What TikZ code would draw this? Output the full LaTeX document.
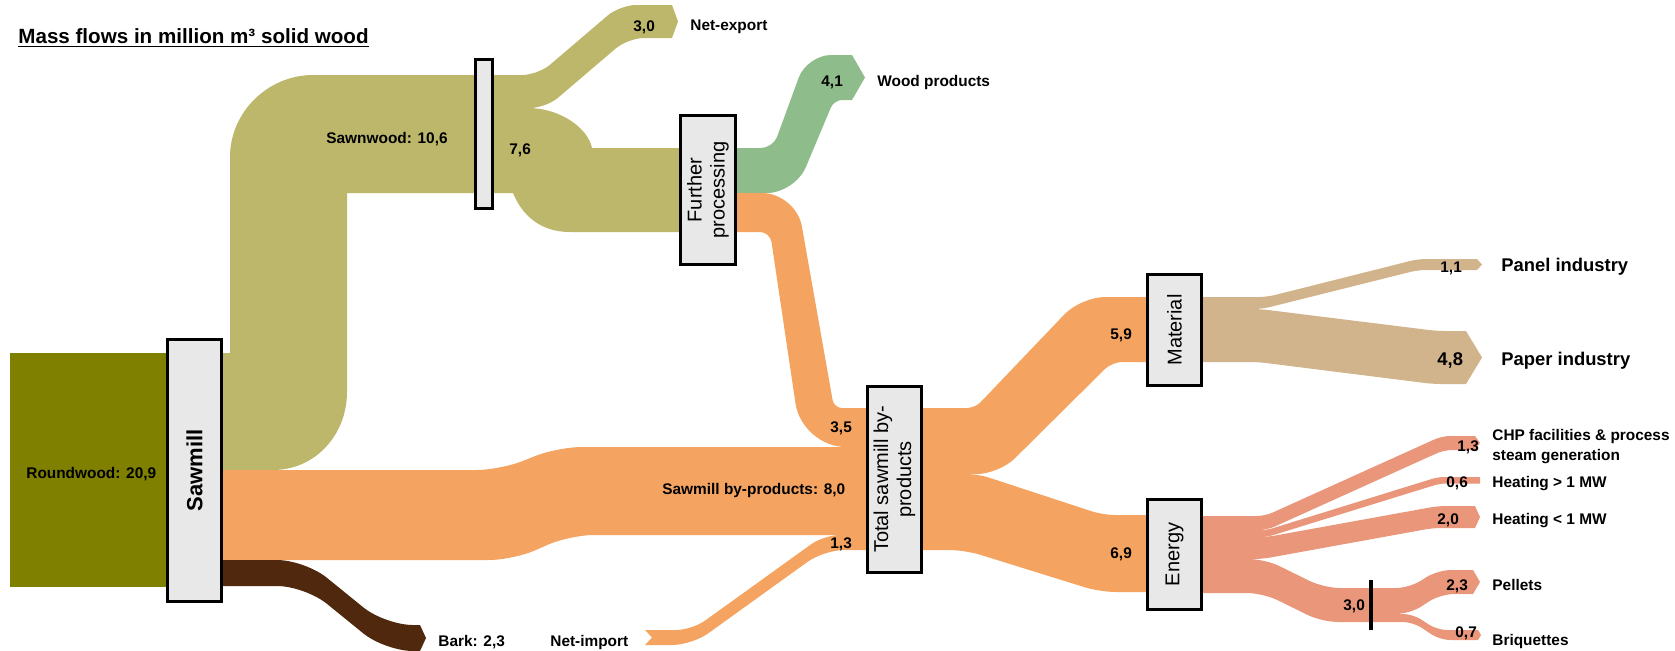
\documentclass[tikz,border=0pt]{standalone}
\usepackage{fontspec}
\setmainfont{Liberation Sans}
\definecolor{rwood}{HTML}{808000}
\definecolor{sawn}{HTML}{BDB76B}
\definecolor{byp}{HTML}{F4A460}
\definecolor{woodp}{HTML}{8FBC8B}
\definecolor{tanc}{HTML}{D2B48C}
\definecolor{sal}{HTML}{E9967A}
\definecolor{barkc}{HTML}{4F280D}
\definecolor{boxfill}{HTML}{E8E8E8}
\begin{document}
\begin{tikzpicture}[x=0.5pt,y=-0.5pt,
  procbox/.style={draw=black, line width=1.3pt, fill=boxfill, inner sep=0pt, align=center},
  lbl/.style={font=\bfseries\fontsize{7.7}{10}\selectfont, inner sep=0pt, anchor=base west},
  biglbl/.style={font=\bfseries\fontsize{9.2}{11}\selectfont, inner sep=0pt, anchor=base west},
  boxlbl/.style={font=\fontsize{10}{11.5}\selectfont},
]
\clip (0,0) rectangle (1675,650);

% roundwood input
\fill[rwood] (10,353) rectangle (190,587);

% sawnwood and its split
\fill[sawn] (200,353) -- (230,353) -- (230,157) .. controls (230,112) and (268,75) .. (313,75)
  -- (484,75) -- (484,193) -- (347,193) -- (347,392) .. controls (347,435) and (315,470) .. (273,470)
  -- (200,470) -- cycle;
\fill[sawn] (484,108) -- (484,75) [rounded corners=8pt] -- (538,75) -- (620,5) [sharp corners] -- (672,5)
  -- (678,21.5) -- (672,38) [rounded corners=8pt] -- (628,38) -- (546,108) [sharp corners] -- (500,108) -- cycle;
\fill[sawn] (484,108) -- (528,108) .. controls (560,108) and (588,128) .. (592,148) -- (690,148)
  -- (690,232) -- (570,232) .. controls (540,232) and (522,215) .. (513,193) -- (484,193) -- cycle;

% wood products
\fill[woodp] (725,193) -- (725,148) [rounded corners=6pt] -- (773,148) [rounded corners=12pt] -- (807,55)
  [sharp corners] -- (852,55) -- (865,77.5) -- (852,100) [rounded corners=4pt] -- (834,100)
  [rounded corners=14pt] -- (795,193) [sharp corners] -- (760,193) -- cycle;

% by-products from further processing
\fill[byp] (725,232) -- (725,193) [rounded corners=17pt] -- (796,193) [rounded corners=4pt] -- (834,408)
  [sharp corners] -- (880,408) -- (880,447) [rounded corners=22pt] -- (802,447) [rounded corners=5pt]
  -- (770,232) [sharp corners] -- (740,232) -- cycle;

% sawmill by-products
\fill[byp] (200,470) [rounded corners=12pt] -- (500,470) -- (558,447) [sharp corners] -- (880,447)
  -- (880,535) [rounded corners=12pt] -- (570,535) -- (513,560) [sharp corners] -- (200,560) -- cycle;

% net import
\fill[byp] (880,550) -- (880,535) [rounded corners=8pt] -- (824,535) -- (692,630) [sharp corners] -- (645,630)
  -- (652,637.5) -- (645,645) [rounded corners=10pt] -- (692,645) -- (824,550) [sharp corners] -- (850,550) -- cycle;

% bark
\fill[barkc] (200,586) -- (200,560) [rounded corners=14pt] -- (305,560) -- (385,625) [sharp corners] -- (420,625)
  -- (426,638) -- (420,651) [rounded corners=14pt] -- (385,651) -- (305,586) [sharp corners] -- (260,586) -- cycle;

% material and energy
\fill[byp] (910,474) -- (910,408) [rounded corners=4pt] -- (975,408) [rounded corners=12pt] -- (1081,297)
  [sharp corners] -- (1160,297) -- (1160,362) [rounded corners=5pt] -- (1112,362) [rounded corners=11pt]
  -- (999,474) [sharp corners] -- (960,474) -- cycle;
\fill[byp] (910,550) -- (910,474) [rounded corners=6pt] -- (978,474) -- (1103,515) [sharp corners] -- (1160,515)
  -- (1160,592) [rounded corners=8pt] -- (1100,592) -- (965,550) [sharp corners] -- (940,550) -- cycle;

% material uses
\fill[tanc] (1190,309) -- (1190,297) [rounded corners=4pt] -- (1267,297) -- (1418,259) [sharp corners] -- (1477,259)
  -- (1482,264.5) -- (1477,270) [rounded corners=4pt] -- (1418,270) -- (1262,309) [sharp corners] -- (1240,309) -- cycle;
\fill[tanc] (1190,362) -- (1190,309) [rounded corners=4pt] -- (1260,309) -- (1437,331) [sharp corners] -- (1466,331)
  -- (1482,357.5) -- (1466,384) [rounded corners=4pt] -- (1433,384) -- (1258,362) [sharp corners] -- (1230,362) -- cycle;

% energy uses
\fill[sal] (1190,530) -- (1190,516) [rounded corners=4pt] -- (1265,516) -- (1442,436) [sharp corners] -- (1475,436)
  -- (1480,443) -- (1475,450) [rounded corners=4pt] -- (1444,450) -- (1267,530) [sharp corners] -- (1240,530) -- cycle;
\fill[sal] (1190,537) -- (1190,530) [rounded corners=3pt] -- (1267,530) -- (1438,477) [sharp corners] -- (1480,477)
  -- (1480,483.5) [rounded corners=3pt] -- (1440,483.5) -- (1267,537) [sharp corners] -- (1240,537) -- cycle;
\fill[sal] (1190,559) -- (1190,537) [rounded corners=4pt] -- (1267,537) -- (1438,506) [sharp corners] -- (1475,506)
  -- (1480,517) -- (1475,528) [rounded corners=4pt] -- (1433,528) -- (1262,559) [sharp corners] -- (1240,559) -- cycle;
\fill[sal] (1190,593) -- (1190,559) [rounded corners=8pt] -- (1265,559) -- (1324,588) [sharp corners] -- (1371,588)
  -- (1371,622) [rounded corners=8pt] -- (1322,622) -- (1263,593) [sharp corners] -- (1240,593) -- cycle;
\fill[sal] (1371,614) -- (1371,588) [rounded corners=7pt] -- (1410,588) -- (1437,570) [sharp corners] -- (1473,570)
  -- (1480,582) -- (1473,594) [rounded corners=7pt] -- (1440,594) -- (1410,614) [sharp corners] -- (1390,614) -- cycle;
\fill[sal] (1371,622) -- (1371,614) [rounded corners=5pt] -- (1413,614) -- (1437,630) [sharp corners] -- (1478,630)
  -- (1481,635) -- (1478,640) [rounded corners=5pt] -- (1440,640) -- (1413,622) [sharp corners] -- (1390,622) -- cycle;

% process boxes
\node[procbox, rotate=90, minimum width=131.2pt, minimum height=27.2pt, font=\bfseries\fontsize{11}{13}\selectfont]
  (sawmill) at (194.5,470.5) {Sawmill};
\node[procbox, minimum width=8.7pt, minimum height=74.7pt] (sawnsplit) at (484,134) {};
\node[procbox, boxlbl, rotate=90, minimum width=74.7pt, minimum height=27.7pt] (further) at (708,190) {Further\\processing};
\node[procbox, boxlbl, rotate=90, minimum width=93.2pt, minimum height=27.2pt] (total) at (894.5,479.5) {Total sawmill by-\\products};
\node[procbox, boxlbl, rotate=90, minimum width=55.7pt, minimum height=27.2pt] (material) at (1174.5,330) {Material};
\node[procbox, boxlbl, rotate=90, minimum width=55.2pt, minimum height=27.2pt] (energy) at (1174.5,554.5) {Energy};
\node[fill=black, inner sep=0pt, minimum width=2pt, minimum height=25pt] (pelletsplit) at (1371,605) {};

% title
\node[inner sep=0pt, anchor=base west, font=\bfseries\fontsize{10.3}{12}\selectfont] (title) at (18,43)
  {\underline{Mass flows in million m³ solid wood}};

% flow labels
\node[lbl] (lround) at (26,478) {Roundwood: 20,9};
\node[lbl] (lsawn) at (326,143) {Sawnwood: 10,6};
\node[lbl] (lsplit) at (509,154) {7,6};
\node[lbl] (lexpv) at (633,31) {3,0};
\node[lbl] (lexp) at (690,30) {Net-export};
\node[lbl] (lwoodv) at (821,86) {4,1};
\node[lbl] (lwood) at (877,86) {Wood products};
\node[lbl] (lfurther) at (830,432) {3,5};
\node[lbl] (lbyp) at (662,494) {Sawmill by-products: 8,0};
\node[lbl] (limpv) at (830,548) {1,3};
\node[lbl] (lmatv) at (1110,339) {5,9};
\node[lbl] (lenv) at (1110,558) {6,9};
\node[lbl] (lpanelv) at (1440,272) {1,1};
\node[biglbl] (lpanel) at (1501,271.6) {Panel industry};
\node[biglbl] (lpaperv) at (1437,365.6) {4,8};
\node[biglbl] (lpaper) at (1501,365.6) {Paper industry};
\node[lbl] (lchpv) at (1457,451) {1,3};
\node[lbl, anchor=north west, align=left] (lchp) at (1492,428.8) {CHP facilities \& process\\steam generation};
\node[lbl] (lhbigv) at (1446,487) {0,6};
\node[lbl] (lhbig) at (1492,487) {Heating > 1 MW};
\node[lbl] (lhsmallv) at (1437,524) {2,0};
\node[lbl] (lhsmall) at (1492,524) {Heating < 1 MW};
\node[lbl] (lsplit2) at (1343,610) {3,0};
\node[lbl] (lpelletv) at (1446,590) {2,3};
\node[lbl] (lpellet) at (1492,590) {Pellets};
\node[lbl] (lbriqv) at (1455,637) {0,7};
\node[lbl] (lbriq) at (1492,645) {Briquettes};
\node[lbl] (lbark) at (438,646) {Bark: 2,3};
\node[lbl] (limp) at (550,646) {Net-import};
\end{tikzpicture}
\end{document}
